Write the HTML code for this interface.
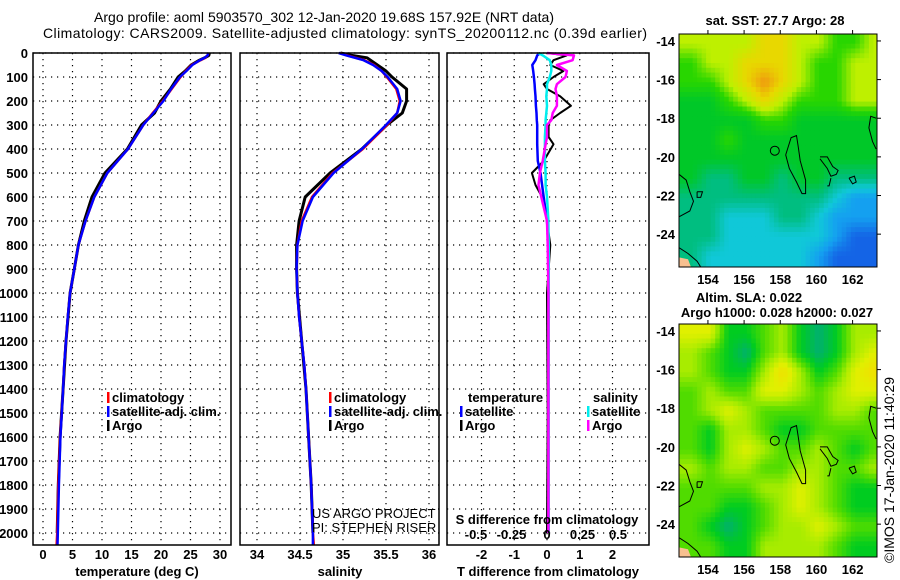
<!DOCTYPE html>
<html><head><meta charset="utf-8">
<style>
html,body{margin:0;padding:0;background:#fff;}
svg{display:block;font-family:"Liberation Sans",sans-serif;}
.tk{font-size:13px;font-weight:bold;fill:#000;}
.tt{font-size:14px;fill:#000;}
.lg{font-size:13px;font-weight:bold;fill:#000;}
</style></head>
<body>
<svg id="fig" width="900" height="580" viewBox="0 0 900 580" xmlns="http://www.w3.org/2000/svg">
<text class="tt" x="324" y="22" text-anchor="middle" textLength="460">Argo profile: aoml 5903570_302 12-Jan-2020 19.68S 157.92E (NRT data)</text>
<text class="tt" x="43" y="38" textLength="604">Climatology: CARS2009. Satellite-adjusted climatology: synTS_20200112.nc (0.39d earlier)</text>
<g id="p1"></g>
<g id="p2"></g>
<g id="p3"></g>
<g id="m1"></g>
<g id="m2"></g>
<text class="tt" x="0" y="0" transform="translate(894,470) rotate(-90)" text-anchor="middle">©IMOS 17-Jan-2020 11:40:29</text>
</svg>
<script>
// ---- data ----
const depths = [0,10,20,30,50,75,100,150,200,250,300,400,500,600,700,800,900,1000,1100,1200,1300,1400,1600,1800,2000,2050];
const tempClim = [28,27.9,27.5,26.7,25.2,24.2,23.3,21.8,20.3,18.6,17.0,14.4,10.9,8.7,7.2,6.0,5.3,4.6,4.2,3.9,3.6,3.4,2.9,2.6,2.4,2.3];
const tempSat  = [28,27.9,27.4,26.6,25.3,24.3,23.2,21.7,20.4,18.7,17.0,14.4,10.9,8.7,7.2,6.0,5.3,4.6,4.2,3.9,3.6,3.4,2.95,2.7,2.5,2.45];
const argoDepths = [0,10,20,30,50,75,100,150,200,250,300,400,500,600,700,800,900,1000,1200,1400,1600,1800,2000];
const tempArgo = [28.2,28.1,27.4,26.5,25.1,24.1,22.9,21.6,20.0,18.9,16.7,14.3,10.5,8.3,7.0,6.0,5.3,4.6,3.9,3.4,2.9,2.6,2.4];
const salClim = [34.97,35.05,35.15,35.25,35.36,35.45,35.51,35.62,35.66,35.63,35.51,35.23,34.88,34.64,34.52,34.47,34.46,34.47,34.49,34.52,34.55,34.57,34.6,34.63,34.65,34.66];
const salSat  = [34.95,35.04,35.14,35.24,35.35,35.45,35.52,35.63,35.67,35.63,35.5,35.22,34.89,34.65,34.53,34.47,34.46,34.47,34.49,34.52,34.55,34.57,34.6,34.63,34.65,34.65];
const salArgo = [34.97,35.1,35.28,35.32,35.4,35.5,35.57,35.74,35.74,35.69,35.51,35.22,34.85,34.56,34.49,34.46,34.46,34.47,34.52,34.57,34.6,34.63,34.65];
const diffDepths = [0,10,30,50,75,100,130,150,180,220,250,280,300,350,380,450,500,550,600,700,800,1000,1500,2000];
const tDiffArgo = [0,0.6,0.2,0.1,0.5,0.2,-0.1,0,0.4,0.73,0.4,0.1,0.05,0.05,0.2,-0.1,-0.46,-0.35,-0.15,0,0.1,0,0.02,0];
const tDiffSat  = [-0.2,-0.3,-0.35,-0.45,-0.42,-0.4,-0.38,-0.37,-0.35,-0.34,-0.32,-0.31,-0.3,-0.3,-0.3,-0.28,-0.2,-0.15,-0.1,0,0.05,0.05,0.05,0.05];
const sDiffArgo = [0,0.19,0.18,0.07,0.14,0.13,0.07,0.06,0.07,0.07,0.04,0.03,0.0,0.0,-0.01,-0.03,-0.05,-0.06,-0.04,0,0.005,0.01,0.01,0.01];
const sDiffSat  = [-0.06,-0.03,0.02,0.03,0.03,0.02,0.0,0.0,-0.005,0,-0.005,-0.01,-0.01,-0.015,-0.015,-0.015,-0.01,-0.01,0,0.01,0.012,0.012,0.012,0.012];
const depthTicks = [0,100,200,300,400,500,600,700,800,900,1000,1100,1200,1300,1400,1500,1600,1700,1800,1900,2000];
const tempTicks = [0,5,10,15,20,25,30];
const salTicks = [34,34.5,35,35.5,36];
const salTickLabels = ["34","34.5","35","35.5","36"];
const tDiffTicks = [-2,-1,0,1,2];
const sDiffTicks = [-0.5,-0.25,0,0.25,0.5];
const sDiffTickLabels = ["-0.5","-0.25","0","0.25","0.5"];
const mapLats = [-14,-15,-16,-17,-18,-19,-20,-21,-22,-23,-24,-25];
const mapLons = [153,154,155,156,157,158,159,160,161,162,163];
const sstGrid = [
[6,6,6,6,7,7,6,6,5,5,6],[5,6,6,7,7,7,6,5,5,6,6],[5,5,6,7,8,7,6,5,5,6,6],[4,4,5,6,7,6,5,5,5,6,6],
[4,4,4,4,5,5,4,4,4,4,4],[4,4,5,4,4,4,4,4,4,4,4],[4,4,4,4,4,4,4,4,4,4,4],[4,3,3,4,4,3,4,4,3,3,3],
[3,3,3,3,3,3,3,3,2,1,1],[3,3,2,2,2,3,3,2,1,1,1],[3,3,2,2,2,2,2,2,1,0,0],[3,2,2,2,2,2,2,1,0,0,0]];
const slaGrid = [
[4,4,1,1,2,3,1,0,1,3,3],[3,2,1,0,2,3,1,0,1,3,4],[3,2,1,1,3,5,3,1,2,4,5],[2,3,2,2,4,4,3,2,3,4,4],
[2,3,4,3,2,2,2,2,3,3,2],[2,1,3,3,2,1,1,2,2,2,2],[2,1,3,4,3,2,2,3,2,1,2],[3,2,3,3,2,2,3,3,2,2,3],
[2,2,2,2,3,3,4,3,2,1,1],[2,2,1,1,2,3,4,3,2,1,1],[2,1,0,1,2,3,3,4,3,2,2],[2,2,1,1,3,3,3,3,2,1,1]];
const latTicks = [-14,-16,-18,-20,-22,-24];
const lonTicks = [154,156,158,160,162];
const sstPalette = [[20,100,230],[20,160,240],[16,200,216],[0,190,128],[0,200,40],[40,214,0],[190,240,0],[232,216,0],[240,150,16]];
const slaPalette = [[0,176,112],[0,204,32],[80,220,0],[168,236,0],[224,240,0],[240,224,0]];
const floatLon = 157.92, floatLat = -19.68;
const coast = [
 [[158.3,-19.9],[158.6,-19.0],[158.9,-18.9],[159.0,-19.5],[159.1,-20.2],[159.4,-21.2],[159.4,-21.9],[159.2,-21.9],[158.9,-21.3],[158.5,-20.6],[158.3,-19.9]],
 [[160.2,-20.0],[160.6,-20.0],[160.9,-20.5],[161.2,-20.7],[161.1,-20.9],[160.8,-21.0],[160.6,-20.6],[160.2,-20.1]],
 [[160.8,-21.1],[160.7,-21.5],[160.6,-21.5]],
 [[161.8,-21.1],[162.1,-21.0],[162.2,-21.3],[162.0,-21.4],[161.8,-21.1]],
 [[163.3,-18.0],[163.0,-17.9],[162.9,-18.5],[163.1,-19.2],[163.3,-19.6]],
 [[152.4,-20.9],[152.8,-21.2],[153.0,-21.8],[153.2,-22.3],[153.0,-22.8],[152.4,-23.1]],
 [[152.4,-24.7],[152.9,-25.0],[153.4,-25.4],[153.6,-25.7]],
 [[153.4,-21.8],[153.7,-21.8],[153.6,-22.1],[153.4,-22.1],[153.4,-21.8]]
];
// ---- helpers ----
const NS="http://www.w3.org/2000/svg";
function mk(parent,tag,attrs,txt){const e=document.createElementNS(NS,tag);for(const k in attrs)e.setAttribute(k,attrs[k]);if(txt!==undefined)e.textContent=txt;parent.appendChild(e);return e;}
const Y0=53, PXM=0.24, PB=545;
function yD(d){return Y0+d*PXM;}
function panelFrame(g,x0,x1,xticks,xfn,gridNm){
  depthTicks.forEach(d=>{const l=mk(g,'line',{x1:x0,x2:x1,y1:yD(d),y2:yD(d),stroke:'#000','stroke-width':1.2,'stroke-dasharray':'1.2,4.8'});
    });
  xticks.forEach(v=>{const x=xfn(v);const l=mk(g,'line',{x1:x,x2:x,y1:Y0,y2:PB,stroke:'#000','stroke-width':1.2,'stroke-dasharray':'1.2,4.8'});
    });
}
function frame(g,x0,x1){const r=mk(g,'rect',{x:x0,y:Y0,width:x1-x0,height:PB-Y0,fill:'none',stroke:'#000','stroke-width':1.5});
  }
function line(g,xs,ds,xfn,col,w,nm){const pts=xs.map((v,i)=>xfn(v).toFixed(1)+','+yD(ds[i]).toFixed(1)).join(' ');
  const p=mk(g,'polyline',{points:pts,fill:'none',stroke:col,'stroke-width':w,'stroke-linejoin':'round'});
  return p;}
function legend(g,x,y,col,txt,nm){const m=mk(g,'rect',{x:x,y:y-10,width:2.5,height:11,fill:col});
  
  const t=mk(g,'text',{class:'lg',x:x+5,y:y},txt);}
// ---- panel 1 temperature ----
const p1=document.getElementById('p1');
const xT=t=>43+5.9*t;
panelFrame(p1,33,231,tempTicks,xT,'grid-line-temperature');
depthTicks.forEach(d=>{const t=mk(p1,'text',{class:'tk',x:28,y:yD(d)+5,'text-anchor':'end'},String(d));
  });
tempTicks.forEach(v=>{const t=mk(p1,'text',{class:'tk',x:xT(v),y:559,'text-anchor':'middle'},String(v));
  });
line(p1,tempArgo,argoDepths,xT,'#000',3,'argo-temperature-line');
line(p1,tempClim,depths,xT,'#f00',2.5,'climatology-temperature-line');
line(p1,tempSat,depths,xT,'#00f',2.5,'satellite-temperature-line');
frame(p1,33,231);
legend(p1,107,402,'#f00','climatology','legend-climatology');
legend(p1,107,416,'#00f','satellite-adj. clim.','legend-satellite-adj');
legend(p1,107,430,'#000','Argo','legend-argo');
{const t=mk(p1,'text',{class:'lg',x:137,y:576,'text-anchor':'middle'},'temperature (deg C)');}
// ---- panel 2 salinity ----
const p2=document.getElementById('p2');
const xS=s=>257+86*(s-34);
panelFrame(p2,240,439,salTicks,xS,'grid-line-salinity');
salTicks.forEach((v,i)=>{const t=mk(p2,'text',{class:'tk',x:xS(v),y:559,'text-anchor':'middle'},salTickLabels[i]);
  });
const clip=mk(p2,'clipPath',{id:'c2'});mk(clip,'rect',{x:240,y:Y0,width:199,height:PB-Y0});
line(p2,salArgo,argoDepths,xS,'#000',3,'argo-salinity-line');
line(p2,salClim,depths,xS,'#f00',2.5,'climatology-salinity-line');
line(p2,salSat,depths,xS,'#00f',2.5,'satellite-salinity-line');
{const g=mk(p2,'g',{'clip-path':'url(#c2)'});
 const a=mk(g,'text',{x:312,y:518,'font-size':'13px'},'US ARGO PROJECT');
 const b=mk(g,'text',{x:312,y:532,'font-size':'13px'},'PI: STEPHEN RISER');}
frame(p2,240,439);
legend(p2,329,402,'#f00','climatology','legend-climatology-2');
legend(p2,329,416,'#00f','satellite-adj. clim.','legend-satellite-adj-2');
legend(p2,329,430,'#000','Argo','legend-argo-2');
{const t=mk(p2,'text',{class:'lg',x:340,y:576,'text-anchor':'middle'},'salinity');}
// ---- panel 3 differences ----
const p3=document.getElementById('p3');
const xTd=v=>547+32.75*v;
const xSd=v=>547+142*v;
panelFrame(p3,447,649,tDiffTicks,xTd,'grid-line-t-diff');
tDiffTicks.forEach(v=>{const t=mk(p3,'text',{class:'tk',x:xTd(v),y:559,'text-anchor':'middle'},String(v));
  });
line(p3,tDiffArgo,diffDepths,xTd,'#000',2,'argo-t-diff-line');
line(p3,tDiffSat,diffDepths,xTd,'#00f',2.5,'satellite-t-diff-line');
line(p3,sDiffSat,diffDepths,xSd,'#0ee',2.5,'satellite-s-diff-line');
line(p3,sDiffArgo,diffDepths,xSd,'#f0f',2.5,'argo-s-diff-line');
frame(p3,447,649);
{const t=mk(p3,'text',{class:'lg',x:547,y:524,'text-anchor':'middle'},'S difference from climatology');}
sDiffTicks.forEach((v,i)=>{const t=mk(p3,'text',{class:'tk',x:xSd(v),y:539,'text-anchor':'middle'},sDiffTickLabels[i]);
  });
{const t=mk(p3,'text',{class:'lg',x:548,y:576,'text-anchor':'middle'},'T difference from climatology');}
{const t=mk(p3,'text',{class:'lg',x:468,y:402},'temperature');
 const s=mk(p3,'text',{class:'lg',x:593,y:402},'salinity');}
legend(p3,460,416,'#00f','satellite','legend-t-satellite');
legend(p3,460,430,'#000','Argo','legend-t-argo');
legend(p3,587,416,'#0ee','satellite','legend-s-satellite');
legend(p3,587,430,'#f0f','Argo','legend-s-argo');
// ---- maps ----
function sample(grid,fi,fj){
  const ni=grid.length,nj=grid[0].length;
  fi=Math.max(0,Math.min(ni-1,fi));fj=Math.max(0,Math.min(nj-1,fj));
  const i0=Math.floor(fi),j0=Math.floor(fj),i1=Math.min(ni-1,i0+1),j1=Math.min(nj-1,j0+1);
  const a=fi-i0,b=fj-j0;
  return grid[i0][j0]*(1-a)*(1-b)+grid[i0][j1]*(1-a)*b+grid[i1][j0]*a*(1-b)+grid[i1][j1]*a*b;
}
function palCol(pal,v){v=Math.max(0,Math.min(pal.length-1,v));const k=Math.min(pal.length-2,Math.floor(v)),f=v-k;
  const c=pal[k].map((x,n)=>Math.round(x+(pal[k+1][n]-x)*f));return 'rgb('+c.join(',')+')';}
function drawMap(g,top,grid,pal,titles,nm){
  const L=679,R=877,H=233;
  const lonL=152.4,lonR=163.35,latT=-13.64,latB=-25.7;
  const xL=lo=>L+(lo-lonL)/(lonR-lonL)*(R-L);
  const yL=la=>top+(la-latT)/(latB-latT)*H;
  const cp=mk(g,'clipPath',{id:'cp'+nm});mk(cp,'rect',{x:L,y:top,width:R-L,height:H});
  const cg=mk(g,'g',{'clip-path':'url(#cp'+nm+')'});
  const sub=4, cw=(xL(1)-xL(0))/sub, ch=(yL(-1)-yL(0))/sub;
  for(let la=latT;la>latB-0.25;la-=1/sub){
    for(let lo=lonL;lo<lonR+0.25;lo+=1/sub){
      const fi=(mapLats[0]-la), fj=(lo-mapLons[0]);
      const v=sample(grid,fi,fj);
      const r=mk(cg,'rect',{x:xL(lo).toFixed(1),y:yL(la).toFixed(1),width:(cw+0.6).toFixed(1),height:(ch+0.6).toFixed(1),fill:palCol(pal,v)});
      
      
    }
  }
  mk(cg,'polygon',{points:[[152.4,-25.2],[152.9,-25.3],[153.1,-25.8],[152.4,-25.8]].map(p=>xL(p[0])+','+yL(p[1])).join(' '),fill:'#f8c090'});
  coast.forEach(c=>{const p=mk(cg,'polyline',{points:c.map(p=>xL(p[0]).toFixed(1)+','+yL(p[1]).toFixed(1)).join(' '),fill:'none',stroke:'#000','stroke-width':1});
    });
  const c=mk(g,'circle',{cx:xL(floatLon)-4,cy:yL(floatLat),r:4.5,fill:'none',stroke:'#000','stroke-width':1});
  
  const fr=mk(g,'rect',{x:L,y:top,width:R-L,height:H,fill:'none',stroke:'#000','stroke-width':1});
  
  latTicks.forEach(la=>{const t=mk(g,'text',{class:'tk',x:675,y:yL(la)+5,'text-anchor':'end'},String(la));
    
    mk(g,'line',{x1:R,x2:R+4,y1:yL(la),y2:yL(la),stroke:'#000'});});
  lonTicks.forEach(lo=>{const t=mk(g,'text',{class:'tk',x:xL(lo),y:top+H+17,'text-anchor':'middle'},String(lo));
    
    mk(g,'line',{x1:xL(lo),x2:xL(lo),y1:top,y2:top-4,stroke:'#000'});});
  titles.forEach((tx,i)=>{const t=mk(g,'text',{class:'lg',x:tx[1],y:tx[2],'text-anchor':'middle'},tx[0]);
    });
}
drawMap(document.getElementById('m1'),34,sstGrid,sstPalette,[['sat. SST: 27.7 Argo: 28',775,25]],'sst-map');
drawMap(document.getElementById('m2'),324,slaGrid,slaPalette,[['Altim. SLA: 0.022',749,302],['Argo h1000: 0.028 h2000: 0.027',777,317]],'sla-map');
</script>
</body></html>
